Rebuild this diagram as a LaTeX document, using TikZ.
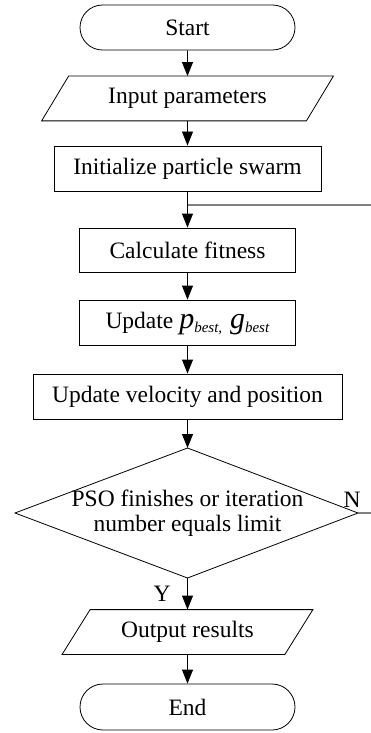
\documentclass[tikz,border=0pt]{standalone}
\usepackage{fontspec}
\setmainfont{Liberation Serif}
\usetikzlibrary{arrows.meta,shapes.misc}
\newcommand{\bigit}[1]{{\fontsize{30}{30}\selectfont\textit{#1}}}
\newcommand{\subit}[1]{{\fontsize{15}{15}\selectfont\raisebox{-4pt}{\textit{#1}}}}
\begin{document}
\begin{tikzpicture}[x=1pt,y=-1pt,
  font=\fontsize{23.5}{25}\selectfont,
  line width=0.8pt,
  box/.style={draw, rectangle, inner sep=0pt, minimum width=#1, minimum height=45},
  term/.style={draw, rounded rectangle, inner sep=0pt, minimum width=215, minimum height=#1},
  plain/.style={inner sep=0pt, minimum width=#1, minimum height=44},
  arr/.style={-{Triangle[length=14pt,width=11pt]}},
  fbline/.style={draw=black!50, line width=1.5pt}]
\useasboundingbox (0,0) rectangle (371,733);
\node[term=45] (start) at (187.5,27.5) {Start};
\node[plain=264] (input) at (187.5,98.5) {Input parameters};
\draw ([xshift=13.5pt]input.north west) -- ([xshift=13.5pt]input.north east)
      -- ([xshift=-13.5pt]input.south east) -- ([xshift=-13.5pt]input.south west) -- cycle;
\node[box=267] (init) at (187.5,168.5) {Initialize particle swarm};
\coordinate (fb) at (187.5,205);
\node[box=216, minimum height=44] (calc) at (187.5,250) {Calculate fitness};
\node[box=216, text height=16pt, text depth=5pt] (upd) at (187.5,322.5) {Update \bigit{p}\subit{best,}\,\,\bigit{g}\subit{best}};
\node[box=309] (vel) at (187.5,396.5) {Update velocity and position};
\node[inner sep=0pt, align=center] (dec) at (187.5,513) {PSO finishes or iteration\\number equals limit};
\coordinate (dT) at (187.5,448);
\coordinate (dB) at (187.5,578);
\coordinate (dL) at (15,513);
\coordinate (dR) at (358,513);
\draw (dT) -- (dR) -- (dB) -- (dL) -- cycle;
\node[plain=222] (out) at (187.5,632) {Output results};
\draw ([xshift=14pt]out.north west) -- ([xshift=14pt]out.north east)
      -- ([xshift=-14pt]out.south east) -- ([xshift=-14pt]out.south west) -- cycle;
\node[term=46] (end) at (187.5,707) {End};
\node (ylab) at (162,594) {Y};
\node (nlab) at (352,500) {N};
\draw[arr] (start) -- (input);
\draw[arr] (input) -- (init);
\draw[arr] (init) -- (calc);
\draw[arr] (calc) -- (upd);
\draw[arr] (upd) -- (vel);
\draw[arr] (vel) -- (dT);
\draw[arr] (dB) -- (out);
\draw[arr] (out) -- (end);
\draw[fbline] (dR) -- ++(30,0) |- (fb);
\end{tikzpicture}
\end{document}
